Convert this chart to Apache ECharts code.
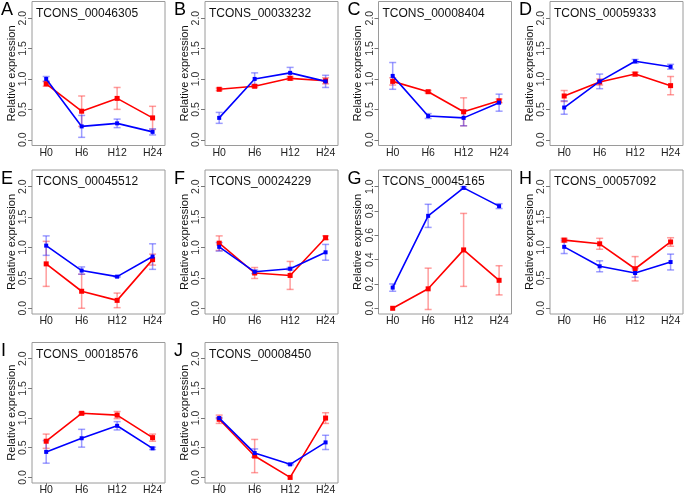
<!DOCTYPE html>
<html>
<head>
<meta charset="utf-8">
<script src="https://cdn.jsdelivr.net/npm/echarts@6/dist/echarts.min.js"></script>
<style>
  html, body { margin: 0; padding: 0; background: #fff; }
  #chart { width: 685px; height: 496px; }
</style>
</head>
<body>
<div id="chart"></div>
<script>
// time points
const times = ['H0', 'H6', 'H12', 'H24']
const letters = ['A', 'B', 'C', 'D', 'E', 'F', 'G', 'H', 'I', 'J']
const genes = ['TCONS_00046305', 'TCONS_00033232', 'TCONS_00008404', 'TCONS_00059333',
    'TCONS_00045512', 'TCONS_00024229', 'TCONS_00045165', 'TCONS_00057092',
    'TCONS_00018576', 'TCONS_00008450']

// red series (mean / error)
const redMean = [
    [0.92, 0.47, 0.68, 0.36], [0.83, 0.88, 1.01, 0.97], [0.96, 0.79, 0.46, 0.64], [0.72, 0.95, 1.08, 0.89],
    [0.73, 0.28, 0.13, 0.80], [1.07, 0.58, 0.54, 1.16], [0.00, 0.16, 0.48, 0.23], [1.12, 1.06, 0.65, 1.09],
    [0.61, 1.08, 1.05, 0.67], [0.98, 0.36, 0.00, 1.00]
]
const redErr = [
    [0.04, 0.25, 0.18, 0.19], [0.02, 0.02, 0.03, 0.05], [0.06, 0.02, 0.23, 0.03], [0.09, 0.05, 0.03, 0.15],
    [0.37, 0.28, 0.12, 0.09], [0.12, 0.09, 0.23, 0.03], [0.00, 0.17, 0.30, 0.12], [0.03, 0.09, 0.20, 0.07],
    [0.12, 0.02, 0.06, 0.06], [0.07, 0.28, 0.00, 0.09]
]
// blue series (mean / error)
const blueMean = [
    [1.00, 0.22, 0.27, 0.13], [0.36, 1.00, 1.10, 0.96], [1.05, 0.39, 0.36, 0.61], [0.53, 0.96, 1.29, 1.20],
    [1.03, 0.62, 0.52, 0.85], [1.01, 0.60, 0.65, 0.92], [0.17, 0.76, 0.99, 0.84], [1.01, 0.69, 0.58, 0.76],
    [0.43, 0.66, 0.87, 0.49], [1.00, 0.41, 0.22, 0.59]
]
const blueErr = [
    [0.04, 0.18, 0.07, 0.05], [0.09, 0.10, 0.09, 0.10], [0.22, 0.04, 0.13, 0.14], [0.11, 0.12, 0.03, 0.04],
    [0.16, 0.06, 0.01, 0.21], [0.07, 0.03, 0.02, 0.13], [0.03, 0.095, 0.01, 0.02], [0.11, 0.09, 0.07, 0.13],
    [0.19, 0.15, 0.07, 0.02], [0.01, 0.07, 0.01, 0.12]
]
// y tick labels
const yTicks = [0, 0.5, 1.0, 1.5, 2.0]
const yTicksG = [0, 0.2, 0.4, 0.6, 0.8, 1.0]

const colLeft = [32, 205, 378.5, 550]
const rowTop = [1.5, 170, 342.5]
const boxW = 133
const boxH = 144
const font = 'Liberation Sans, Arial, sans-serif'

function errRender(color) {
    return function (params, api) {
        const x = api.value(0), m = api.value(1), e = api.value(2)
        if (!e) return null
        const top = api.coord([x, m + e])
        const bot = api.coord([x, m - e])
        const cw = 3.5
        const st = { stroke: color, lineWidth: 1.5 }
        return {
            type: 'group',
            children: [
                { type: 'line', shape: { x1: top[0], y1: top[1], x2: bot[0], y2: bot[1] }, style: st },
                { type: 'line', shape: { x1: top[0] - cw, y1: top[1], x2: top[0] + cw, y2: top[1] }, style: st },
                { type: 'line', shape: { x1: bot[0] - cw, y1: bot[1], x2: bot[0] + cw, y2: bot[1] }, style: st }
            ]
        }
    }
}

const grids = [], xAxes = [], yAxes = [], series = [], titles = []

for (let i = 0; i < genes.length; i++) {
    const col = i % 4, row = Math.floor(i / 4)
    const left = colLeft[col], top = rowTop[row]
    const isG = letters[i] === 'G'
    grids.push({
        left: left, top: top, width: boxW, height: boxH,
        show: true, borderColor: '#9a9a9a', borderWidth: 1, backgroundColor: 'transparent'
    })
    xAxes.push({
        type: 'value', gridIndex: i, min: -0.4, max: 3.35,
        axisLine: { show: false, onZero: false }, splitLine: { show: false },
        axisTick: { show: true, length: 3, lineStyle: { color: '#777' }, customValues: [0, 1, 2, 3] },
        axisLabel: {
            customValues: [0, 1, 2, 3], formatter: v => times[v],
            fontSize: 10.5, color: '#222', margin: 2, fontFamily: font
        }
    })
    yAxes.push({
        type: 'value', gridIndex: i,
        min: isG ? -0.047 : -0.094, max: isG ? 1.137 : 2.273,
        axisLine: { show: false, onZero: false }, splitLine: { show: false },
        axisTick: { show: true, length: 4, lineStyle: { color: '#777' }, customValues: isG ? yTicksG : yTicks },
        axisLabel: {
            customValues: isG ? yTicksG : yTicks, formatter: v => v.toFixed(1),
            rotate: 90, fontSize: 10.5, color: '#333', margin: 3, fontFamily: font
        },
        name: 'Relative expression', nameLocation: 'middle', nameGap: 15, nameRotate: 90,
        nameTextStyle: { fontSize: 11, color: '#111', fontFamily: font }
    })
    const redE = redMean[i].map((m, k) => [k, m, redErr[i][k]])
    const blueE = blueMean[i].map((m, k) => [k, m, blueErr[i][k]])
    series.push({
        type: 'custom', xAxisIndex: i, yAxisIndex: i, data: redE, z: 1,
        renderItem: errRender('rgba(255,60,60,0.5)')
    })
    series.push({
        type: 'custom', xAxisIndex: i, yAxisIndex: i, data: blueE, z: 1,
        renderItem: errRender('rgba(60,60,255,0.5)')
    })
    series.push({
        type: 'line', xAxisIndex: i, yAxisIndex: i, z: 2,
        data: redMean[i].map((m, k) => [k, m]),
        symbol: 'rect', symbolSize: 5,
        itemStyle: { color: '#ff0000' }, lineStyle: { color: '#ff0000', width: 1.6 }
    })
    series.push({
        type: 'line', xAxisIndex: i, yAxisIndex: i, z: 3,
        data: blueMean[i].map((m, k) => [k, m]),
        symbol: 'rect', symbolSize: 4,
        itemStyle: { color: '#0000ff' }, lineStyle: { color: '#0000ff', width: 1.6 }
    })
    titles.push({
        text: genes[i], left: left + 4, top: top + 6, padding: 0,
        textStyle: { fontSize: 12, fontWeight: 'normal', color: '#111', fontFamily: font }
    })
    titles.push({
        text: letters[i], left: left - 31, top: top, padding: 0,
        textStyle: { fontSize: 18, fontWeight: 'normal', color: '#000', fontFamily: font }
    })
}

const chart = echarts.init(document.getElementById('chart'), null, { renderer: 'canvas' })
chart.setOption({
    animation: false,
    backgroundColor: '#fff',
    title: titles,
    grid: grids,
    xAxis: xAxes,
    yAxis: yAxes,
    series: series
})
</script>
</body>
</html>
